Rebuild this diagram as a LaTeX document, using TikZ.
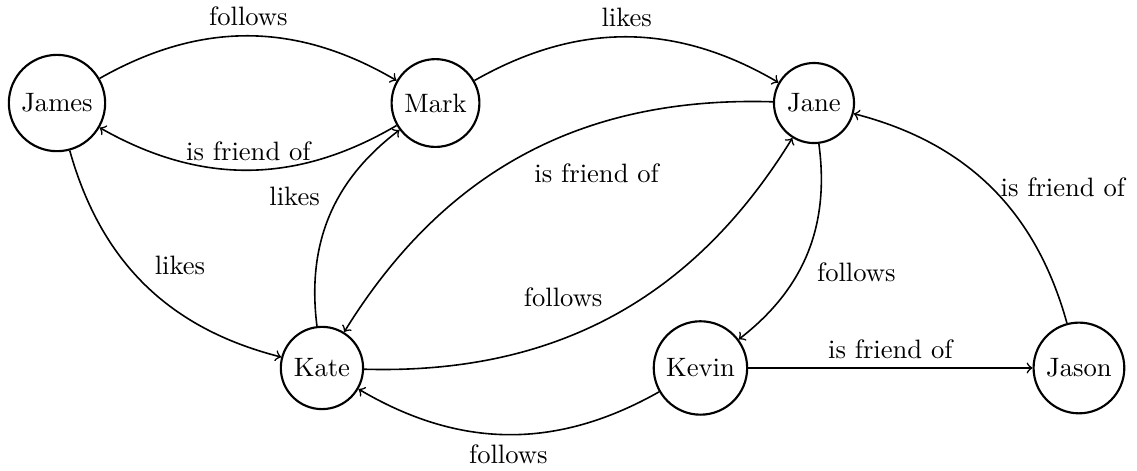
\documentclass[tikz,border=0pt]{standalone}
\usepackage{amsmath,amssymb,amsfonts}
\usepackage{tikz}

\begin{document}
\begin{tikzpicture}[scale=1.0,person/.style={circle,draw,thick},rel/.style={->,semithick}]
\useasboundingbox (-0.753,1.361) rectangle (14.267,-4.861);
\node[person] (james) at (0,0) {James};
\node[person] (mark) at (5,0) {Mark};
\node[person] (jane) at (10,0) {Jane};
\node[person] (kate) at (3.5,-3.5) {Kate};
\node[person] (kevin) at (8.5,-3.5) {Kevin};
\node[person] (jason) at (13.5,-3.5) {Jason};

\draw[rel] (james) to[bend left=30] node[above] {follows} (mark);
\draw[rel] (mark) to[bend left=30] node[above] {is friend of} (james);
\draw[rel] (mark) to[bend left=30] node[above] {likes} (jane);
\draw[rel] (james) to[bend right=30] node[above right] {likes} (kate);
\draw[rel] (kate) to[bend left=30] node[above left] {likes} (mark);
\draw[rel] (jane) to[bend right=30] node[below right] {is friend of} (kate);
\draw[rel] (kate) to[bend right=30] node[above left] {follows} (jane);
\draw[rel] (jane) to[bend left=30] node[below right] {follows} (kevin);
\draw[rel] (kevin) to[bend left=30] node[below] {follows} (kate);
\draw[rel] (kevin) -- node[above] {is friend of} (jason);
\draw[rel] (jason) to[bend right=30] node[right] {is friend of} (jane);
\end{tikzpicture}
\end{document}
